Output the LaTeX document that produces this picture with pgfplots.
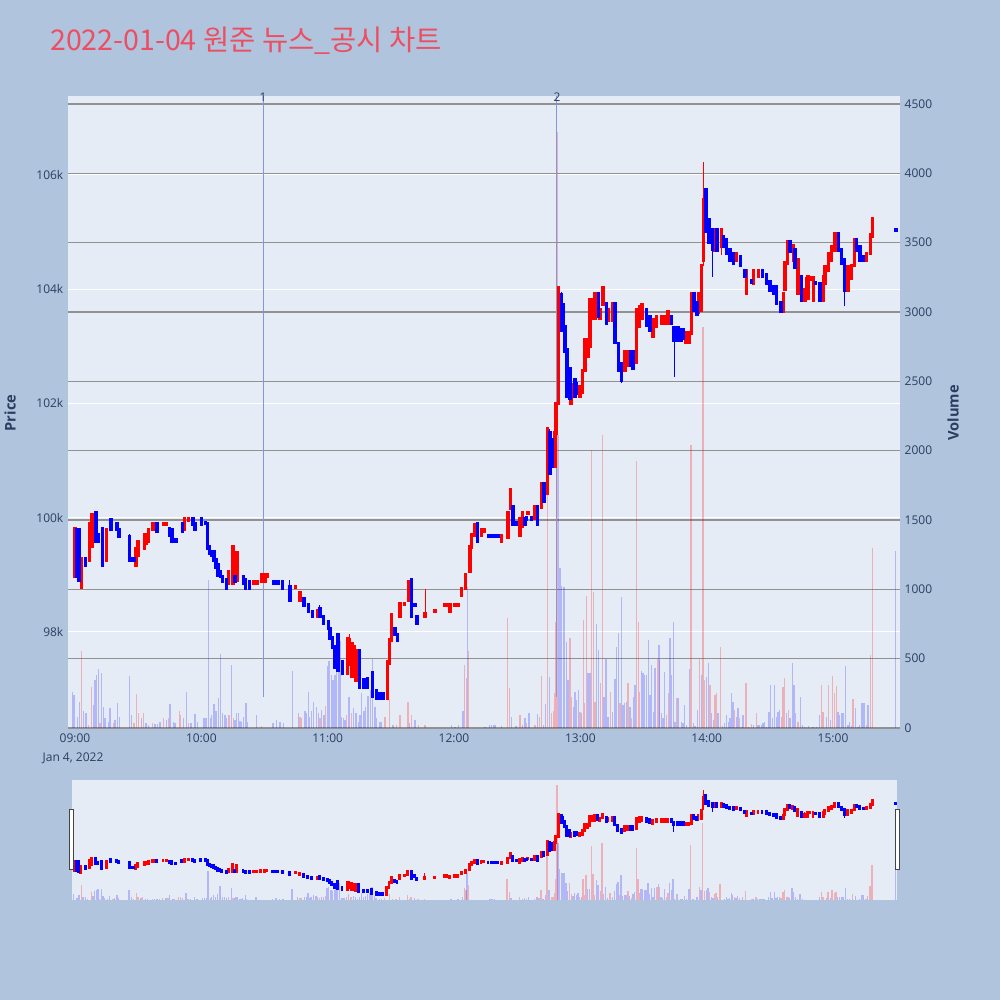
\documentclass[border=0pt]{standalone}
\usepackage{fontspec}
\setmainfont{Open Sans}
\newfontfamily\cjk{Noto Sans CJK KR}
\usepackage{pgfplots}
\usepackage{pgfplotstable}
\pgfplotsset{compat=1.18}

\definecolor{paperbg}{RGB}{176,196,222}
\definecolor{plotbg}{RGB}{229,236,246}
\definecolor{tickcol}{RGB}{42,63,95}
\definecolor{gridgray}{RGB}{145,145,145}
\definecolor{titlecol}{RGB}{236,78,98}
\definecolor{upcol}{RGB}{255,0,0}
\definecolor{dncol}{RGB}{0,0,255}
\definecolor{newscol}{RGB}{130,150,225}

% rising candles: minute after 09:00, open high low close (thousand won)
\pgfplotstableread{
t o h l c
0 98.97 99.80 98.97 99.80
3 98.78 99.29 98.78 99.29
7 99.26 99.90 99.26 99.90
8 99.50 100.09 99.50 100.05
15 99.26 99.79 99.26 99.79
29 99.17 99.46 99.17 99.46
30 99.35 99.58 99.35 99.58
33 99.46 99.70 99.46 99.70
34 99.55 99.70 99.55 99.70
35 99.58 99.79 99.58 99.79
37 99.79 99.90 99.79 99.90
38 99.82 99.90 99.82 99.90
42 99.88 99.90 99.88 99.90
43.5 99.88 99.90 99.88 99.90
52 99.79 99.99 99.79 99.99
54 99.95 99.99 99.95 99.99
73 98.86 99.06 98.86 99.06
75 98.86 99.49 98.86 99.49
77 98.91 99.39 98.91 99.39
85 98.86 98.88 98.86 98.88
86.5 98.86 98.88 98.86 98.88
88.5 98.88 99.00 98.88 99.00
90.2 98.88 99.00 98.88 99.00
91.3 98.98 99.00 98.98 99.00
104.8 98.78 98.80 98.78 98.80
106.8 98.56 98.68 98.56 98.68
115.5 98.27 98.37 98.27 98.37
129.5 97.28 97.89 97.28 97.89
130.3 97.43 97.96 97.43 97.86
131.5 97.22 97.80 97.22 97.80
132.6 97.28 97.74 97.28 97.74
133.4 97.16 97.68 97.16 97.68
148.3 96.84 97.48 96.84 97.48
149.3 97.45 97.86 97.45 97.86
150.4 97.86 98.30 97.86 98.30
154.3 98.27 98.50 98.27 98.50
156.5 98.48 98.50 98.48 98.50
158.3 98.56 98.88 98.56 98.88
166.3 98.27 98.76 98.27 98.32
171 98.36 98.38 98.36 98.38
175.5 98.46 98.48 98.46 98.48
176.8 98.46 98.48 98.46 98.48
178 98.36 98.48 98.36 98.47
180.4 98.46 98.48 98.46 98.48
182 98.46 98.48 98.46 98.48
183.6 98.65 98.76 98.65 98.76
185.5 98.76 99.00 98.76 99.00
187.5 99.06 99.49 99.06 99.49
188.3 99.49 99.70 99.49 99.70
190 99.70 99.87 99.70 99.87
193 99.70 99.79 99.70 99.79
194.2 99.77 99.79 99.77 99.79
202.6 99.58 99.68 99.58 99.68
205.7 99.66 100.08 99.66 100.08
206.8 100.17 100.49 100.17 100.49
211.3 99.70 99.99 99.70 99.99
212.5 99.85 100.08 99.85 100.08
215.2 100.07 100.09 100.07 100.09
218.2 99.99 100.19 99.99 100.19
221.6 100.19 100.60 100.19 100.60
224.4 100.43 101.59 100.43 101.55
227.9 100.90 101.48 100.90 101.48
228.5 101.48 102.00 101.48 102.00
229.6 102.00 104.02 102.00 104.02
235.6 102.00 102.33 102.00 102.33
239.8 102.12 102.29 102.12 102.29
241 102.20 102.58 102.20 102.58
242.1 102.58 103.11 102.58 103.11
243.6 102.82 103.11 102.82 103.11
244.5 103.00 103.81 103.00 103.81
246.1 103.49 103.81 103.49 103.81
247 103.49 103.93 103.49 103.93
249.3 103.49 103.64 103.49 103.64
250.8 103.73 104.02 103.73 104.02
253.2 103.46 103.64 103.46 103.64
255.6 103.46 103.75 103.46 103.75
261.1 102.58 102.91 102.58 102.91
262.7 102.67 102.91 102.67 102.91
266.7 102.73 103.64 102.73 103.64
268.2 103.35 103.70 103.35 103.70
269.3 103.49 103.73 103.49 103.73
274.6 103.17 103.46 103.17 103.46
276.2 103.35 103.52 103.35 103.52
278.5 103.40 103.52 103.40 103.52
280.1 103.40 103.52 103.40 103.52
281.7 103.40 103.60 103.40 103.60
290.2 103.08 103.23 103.08 103.23
291.5 103.08 103.23 103.08 103.23
292.9 103.23 103.93 103.23 103.93
296 103.60 103.93 103.60 103.93
297.5 103.64 104.42 103.60 104.42
298.4 104.51 106.23 104.40 105.56
304 104.69 105.04 104.69 105.04
307 104.75 105.04 104.60 105.04
314.2 104.51 104.63 104.51 104.63
319 103.93 104.33 103.93 104.33
322.2 104.10 104.33 104.10 104.33
324.5 104.22 104.33 104.22 104.33
336.4 103.61 103.93 103.61 103.93
337.2 104.00 104.47 104.00 104.47
338.3 104.45 104.83 104.45 104.83
341.1 104.51 104.77 104.51 104.77
343.4 103.93 104.51 103.93 104.51
346.7 103.81 104.22 103.81 104.00
348 103.84 104.22 103.84 104.22
349 104.18 104.20 104.18 104.20
350.6 103.81 104.20 103.81 104.20
355.4 103.81 104.22 103.81 104.22
356.2 104.10 104.39 104.10 104.39
357.8 104.33 104.63 104.33 104.63
359.3 104.51 104.74 104.51 104.74
360.9 104.69 104.97 104.69 104.97
367.1 103.99 104.39 103.99 104.39
368.8 104.20 104.42 104.20 104.42
370.1 104.42 104.86 104.42 104.86
376 104.51 104.63 104.51 104.63
377.7 104.63 104.95 104.63 104.95
378.8 104.92 105.24 104.92 105.24
}\upc

% falling candles
\pgfplotstableread{
t o h l c
1 99.79 99.79 98.97 98.97
2 99.79 99.79 98.90 98.91
5 99.29 99.29 99.17 99.17
10 100.09 100.09 99.59 99.59
11 99.70 99.70 99.59 99.59
13 99.80 99.80 99.16 99.16
17 99.97 100.00 99.79 99.79
20 99.90 99.90 99.79 99.79
21 99.79 99.79 99.67 99.67
26 99.67 99.72 99.26 99.26
27 99.28 99.28 99.26 99.26
28 99.28 99.28 99.26 99.26
39 99.90 99.90 99.77 99.77
45 99.80 99.80 99.70 99.70
46 99.79 99.79 99.59 99.59
48 99.61 99.61 99.59 99.59
51 99.90 99.90 99.77 99.77
56 99.99 99.99 99.88 99.88
57 99.90 99.90 99.79 99.79
60 99.99 99.99 99.88 99.88
62 99.92 99.92 99.90 99.90
63 99.90 99.90 99.46 99.46
64 99.49 99.49 99.37 99.37
65 99.40 99.40 99.34 99.34
66 99.40 99.40 99.26 99.26
67 99.26 99.26 99.14 99.14
68 99.17 99.17 99.00 99.00
69 99.06 99.06 98.97 98.97
70 98.97 98.97 98.88 98.88
72 98.91 98.91 98.76 98.76
76 98.97 98.97 98.88 98.88
80 98.97 98.97 98.86 98.86
81 98.91 98.91 98.76 98.76
83 98.88 98.88 98.76 98.76
94.2 98.88 98.88 98.86 98.86
95.5 98.88 98.88 98.86 98.86
96.6 98.88 98.88 98.86 98.86
98.6 98.88 98.88 98.76 98.76
102 98.79 98.91 98.56 98.56
108.8 98.58 98.58 98.46 98.46
110.8 98.47 98.47 98.36 98.36
112.7 98.36 98.36 98.27 98.27
116.3 98.40 98.47 98.27 98.27
118 98.27 98.27 98.15 98.15
120.3 98.18 98.18 98.06 98.06
121 98.06 98.06 97.89 97.89
122.2 97.90 97.90 97.74 97.74
123.5 97.74 97.74 97.39 97.39
125 97.96 97.96 97.33 97.33
127 97.48 97.48 97.28 97.28
135 97.68 97.68 97.04 97.04
137.2 97.16 97.16 97.04 97.04
139 97.19 97.19 97.04 97.04
141.2 97.28 97.28 96.87 96.87
143.2 96.98 96.98 96.84 96.84
144.8 96.92 96.92 96.84 96.84
146.4 96.92 96.92 96.84 96.84
152 98.06 98.06 97.96 97.96
153.1 97.96 97.96 97.86 97.86
159.9 98.91 98.91 98.27 98.27
161.4 98.48 98.48 98.46 98.46
162.5 98.27 98.27 98.15 98.15
191.2 99.90 99.90 99.58 99.58
196.3 99.69 99.69 99.67 99.67
197.8 99.69 99.69 99.67 99.67
199.4 99.69 99.69 99.67 99.67
201 99.69 99.69 99.67 99.67
208.1 100.20 100.20 99.88 99.88
209.7 99.91 99.91 99.89 99.89
213.7 99.99 99.99 99.88 99.88
214.5 100.00 100.00 99.98 99.98
216.8 100.00 100.00 99.98 99.98
219.7 100.19 100.19 99.88 99.88
222.7 100.60 100.60 100.28 100.28
225.5 101.48 101.55 100.78 100.78
226.6 101.36 101.36 100.90 100.90
231 103.90 103.95 103.29 103.29
231.9 103.73 103.73 103.34 103.34
232.6 103.34 103.34 102.91 102.91
233.7 102.94 102.94 102.12 102.12
235 102.61 102.61 102.09 102.09
237.4 102.41 102.41 102.12 102.12
238.2 102.35 102.35 102.18 102.18
248.5 103.93 103.93 103.52 103.52
252.4 103.75 103.75 103.40 103.40
256.4 103.75 103.75 103.08 103.08
258 103.05 103.05 102.58 102.58
259.5 102.70 102.70 102.35 102.41
263.8 102.91 102.91 102.67 102.67
265.1 102.91 102.91 102.62 102.62
271.4 103.64 103.64 103.37 103.37
273 103.52 103.52 103.29 103.29
283.3 103.52 103.52 103.40 103.40
284.5 103.32 103.32 102.47 103.11
286.3 103.32 103.32 103.11 103.11
287.7 103.29 103.29 103.11 103.11
289 103.29 103.29 103.14 103.14
294 103.93 103.93 103.64 103.64
295.3 103.76 103.76 103.56 103.56
299.7 105.74 105.74 105.01 105.01
301.1 105.21 105.21 104.83 104.83
302.7 105.04 105.04 104.22 104.70
304.8 105.04 105.04 104.69 104.69
308 104.92 104.92 104.75 104.75
309.5 104.86 104.86 104.63 104.63
311.1 104.69 104.69 104.51 104.51
312.7 104.63 104.63 104.45 104.45
316.1 104.57 104.57 104.42 104.42
318.2 104.33 104.33 104.22 104.22
321.2 104.15 104.15 104.13 104.13
326.4 104.33 104.33 104.22 104.22
328.5 104.25 104.25 104.10 104.10
330.1 104.13 104.13 103.99 103.99
331.7 104.05 104.05 103.93 103.93
333.2 104.05 104.05 103.76 103.76
335.3 103.76 103.76 103.61 103.61
339.6 104.83 104.83 104.66 104.66
341.9 104.69 104.69 104.39 104.39
345.1 104.22 104.22 103.81 103.81
351.7 104.12 104.12 104.10 104.10
353.8 104.10 104.10 103.81 103.81
362.5 104.97 104.97 104.69 104.69
364.1 104.69 104.69 104.45 104.45
365.4 104.51 104.51 103.70 103.99
371.2 104.86 104.86 104.69 104.69
372.8 104.74 104.74 104.51 104.51
374.4 104.57 104.57 104.51 104.51
389.9 105.05 105.05 105.03 105.03
}\dnc

% volume on rising ticks
\pgfplotstableread{
t v
3.2 558
6.3 20
7.9 298
11.9 34
18.2 34
28.0 34
29.3 246
30.1 108
32.4 108
36.9 34
41.9 70
44.3 70
49.5 120
50.2 94
53.8 34
73.1 94
75.2 70
88.6 14
106.8 82
107.6 70
116.3 70
119.1 159
129.0 94
131.3 108
147.2 82
149.5 207
152.7 22
154.3 96
158.2 190
159.8 96
163.0 22
166.2 22
185.1 452
185.9 361
187.0 553
205.3 792
206.5 286
211.3 94
214.5 34
218.4 22
220.5 82
221.4 375
224.4 2160
226.3 106
227.1 125
227.9 255
228.4 768
229.0 4300
235.0 647
235.8 226
239.8 118
241.4 780
242.1 178
242.9 953
245.3 2006
246.1 984
246.9 190
249.6 322
250.4 2115
254.3 262
258.8 178
262.7 322
264.3 70
266.7 1929
267.5 768
268.2 262
276.5 496
277.7 490
280.9 94
281.7 250
285.7 214
292.5 2040
296.7 496
298.3 2890
299.1 346
301.5 310
303.9 238
304.6 250
306.5 585
313.3 130
315.7 70
318.6 322
321.3 28
323.6 106
335.5 82
336.3 298
337.1 358
338.7 130
343.4 46
354.5 310
355.3 118
357.7 310
359.7 375
360.8 250
361.6 303
369.5 207
375.8 22
377.7 527
378.7 1297
}\volup

% volume on falling ticks
\pgfplotstableread{
t v
-1.3 262
-0.5 240
1.1 82
2.1 190
4.0 120
5.2 108
8.7 165
9.5 349
10.3 385
11.1 428
12.7 397
13.5 154
14.2 70
15.8 46
16.6 142
19.0 58
20.1 183
21.0 82
25.8 375
26.9 96
31.6 70
33.7 34
34.8 22
38.0 29
39.1 29
40.3 46
43.5 58
45.1 173
46.7 46
47.5 34
51.4 70
53.0 257
55.1 34
57.0 101
58.1 46
60.9 70
61.7 70
62.5 70
63.3 1070
64.4 70
64.9 94
66.0 173
66.9 120
68.0 214
69.1 534
70.1 108
71.2 94
72.0 70
74.4 452
76.0 58
76.7 108
77.5 108
78.3 53
79.1 46
79.9 82
81.2 178
81.8 46
86.2 94
94.1 34
95.7 58
97.3 46
98.9 34
103.3 414
106.0 108
109.2 120
110.0 108
110.8 262
111.5 82
112.3 120
113.4 190
114.7 154
115.5 108
117.1 130
118.2 94
119.9 445
120.7 481
121.8 385
122.6 349
123.4 385
124.2 445
125.0 649
125.8 625
126.6 82
127.4 70
128.2 58
130.2 226
132.4 142
133.4 108
134.5 46
135.3 94
136.1 250
137.2 120
138.1 154
139.2 231
140.3 274
141.3 500
142.4 154
143.2 70
144.8 46
145.6 46
151.1 22
159.0 34
161.4 58
178.8 20
180.4 10
182.0 20
184.3 120
186.3 1018
194.7 10
197.0 22
197.8 22
198.6 22
199.4 22
202.6 14
207.3 82
209.4 14
212.6 22
213.7 70
215.6 106
219.5 101
222.4 22
223.6 173
225.2 370
229.6 2115
230.4 1152
231.1 1025
231.9 1020
232.6 1020
233.4 623
234.2 346
236.6 154
237.4 262
238.2 202
239.0 274
240.6 106
243.7 395
244.5 400
247.7 750
248.5 563
251.2 226
252.1 496
253.2 82
255.3 118
256.4 351
257.2 587
258.0 683
259.5 947
260.3 166
261.1 178
261.9 190
263.5 154
265.1 226
265.9 310
269.0 414
269.8 395
270.6 380
271.4 385
272.2 635
273.0 238
273.8 457
274.6 118
275.4 433
277.3 600
278.5 106
279.3 70
280.1 406
282.5 647
283.3 380
284.1 768
284.9 46
286.4 214
288.0 46
288.8 34
289.6 166
290.4 22
291.7 423
293.6 34
294.4 14
295.5 130
297.5 380
299.9 370
300.7 466
302.3 106
303.1 58
305.4 106
307.5 14
308.6 34
309.4 94
310.2 46
311.0 70
311.8 250
312.5 190
314.1 82
314.9 142
316.5 10
317.3 94
319.7 10
322.1 22
324.4 22
325.2 22
326.0 22
326.8 38
327.6 46
328.4 10
329.6 118
330.4 310
331.2 70
332.3 310
333.1 82
333.9 118
334.7 130
337.9 106
339.5 70
340.7 466
341.5 310
342.3 106
344.5 221
345.5 22
346.6 10
348.2 14
350.5 10
352.1 10
353.7 94
356.9 82
358.8 58
362.4 118
363.2 94
364.0 106
364.8 106
365.9 447
367.1 22
367.9 46
368.7 14
370.8 142
371.9 10
372.7 22
373.8 178
374.7 178
376.6 166
389.8 1273
}\voldn

\pgfplotsset{
  bare/.style={scale only axis, anchor=south west,
    axis line style={draw=none}, tick style={draw=none},
    xtick=\empty, ytick=\empty},
  wick/.style 2 args={draw=none, mark=none,
    error bars/.cd, y dir=plus, y explicit, error mark=none,
    error bar style={draw=#1, line width=#2}},
  body/.style 2 args={draw=none, mark=none,
    error bars/.cd, y dir=plus, y explicit, error mark=none,
    error bar style={draw=#1, line width=#2, line cap=rect}},
}

\newcommand\candles[2]{% body width, wick width
  \addplot[wick={upcol}{#2}] table[x=t, y=l, y error plus expr={\thisrow{h}-\thisrow{l}}] {\upc};
  \addplot[body={upcol}{#1}] table[x=t, y=o, y error plus expr={max(\thisrow{c}-\thisrow{o},0.005)}] {\upc};
  \addplot[wick={dncol}{#2}] table[x=t, y=l, y error plus expr={\thisrow{h}-\thisrow{l}}] {\dnc};
  \addplot[body={dncol}{#1}] table[x=t, y=c, y error plus expr={max(\thisrow{o}-\thisrow{c},0.005)}] {\dnc};
}
\newcommand\volbars[1]{% bar width
  \addplot[ycomb, mark=none, draw=upcol, opacity=0.25, line width=#1] table[x=t, y=v] {\volup};
  \addplot[ycomb, mark=none, draw=dncol, opacity=0.22, line width=#1] table[x=t, y=v] {\voldn};
}

\begin{document}
\begin{tikzpicture}
\fill[paperbg] (0,0) rectangle (750pt,750pt);

% main panel: price grid and labels
\begin{axis}[
  at={(51pt,204pt)}, anchor=south west, scale only axis,
  width=624pt, height=474pt,
  xmin=-3.32, xmax=391.8, ymin=96.319, ymax=107.383,
  axis background/.style={fill=plotbg},
  axis line style={draw=none}, tick style={draw=none},
  xtick={0,60,...,360},
  xticklabels={09:00,10:00,11:00,12:00,13:00,14:00,15:00},
  ytick={98,100,...,106},
  yticklabels={98k,100k,102k,104k,106k},
  ymajorgrids, grid style={white, line width=0.75pt},
  ticklabel style={font=\fontsize{9}{11}\selectfont, text=tickcol},
  xticklabel style={yshift=-1pt},
]
\end{axis}

% main panel: volume on the right axis
\begin{axis}[
  at={(51pt,204pt)}, anchor=south west, scale only axis,
  width=624pt, height=474pt,
  xmin=-3.32, xmax=391.8, ymin=0, ymax=4557.7,
  axis line style={draw=none}, tick style={draw=none},
  xtick=\empty,
  ytick={0,500,...,4500}, yticklabel pos=right,
  scaled y ticks=false,
  yticklabel style={/pgf/number format/.cd, fixed, 1000 sep={}, assume math mode=true},
  ymajorgrids, grid style={gridgray, line width=0.8pt},
  ticklabel style={font=\fontsize{9}{11}\selectfont, text=tickcol},
]
\volbars{1.0pt}
\end{axis}

% main panel: candles and news markers
\begin{axis}[
  at={(51pt,204pt)}, bare, clip=false,
  width=624pt, height=474pt,
  xmin=-3.32, xmax=391.8, ymin=96.319, ymax=107.383,
]
\addplot[newscol, line width=0.75pt] coordinates {(89.3,96.87) (89.3,107.383)};
\addplot[newscol, line width=0.75pt] coordinates {(228.9,96.87) (228.9,107.383)};
\candles{2.6pt}{0.75pt}
\node[font=\fontsize{9}{11}\selectfont, text=tickcol, yshift=-1pt] at (axis cs:89.3,107.383) {1};
\node[font=\fontsize{9}{11}\selectfont, text=tickcol, yshift=-1pt] at (axis cs:228.9,107.383) {2};
\end{axis}

% range slider
\begin{axis}[
  at={(54pt,75pt)}, bare,
  width=618.75pt, height=90pt,
  xmin=-1.2, xmax=390.5, ymin=0, ymax=4487,
  axis background/.style={fill=plotbg},
]
\volbars{1.0pt}
\end{axis}
\begin{axis}[
  at={(54pt,75pt)}, bare,
  width=618.75pt, height=90pt,
  xmin=-1.2, xmax=390.5, ymin=96.31, ymax=107.12,
]
\candles{2.2pt}{0.6pt}
\end{axis}
\draw[fill=white, draw={rgb,255:red,68;green,68;blue,68}, line width=0.75pt]
  (51.9pt,97.5pt) rectangle (54.9pt,142.5pt);
\draw[fill=white, draw={rgb,255:red,68;green,68;blue,68}, line width=0.75pt]
  (671.4pt,97.5pt) rectangle (674.4pt,142.5pt);

% texts
\node[anchor=base west, inner sep=0pt, text=titlecol,
  font=\cjk\fontsize{21.4}{25}\selectfont] at (37.5pt,712pt) {2022-01-04 원준 뉴스\_공시 차트};
\node[rotate=90, text=tickcol, font=\bfseries\fontsize{11}{13}\selectfont] at (7.5pt,440.25pt) {Price};
\node[rotate=90, text=tickcol, font=\bfseries\fontsize{11}{13}\selectfont] at (714.75pt,440.25pt) {Volume};
\node[text=tickcol, font=\fontsize{9}{11}\selectfont] at (54.75pt,181.5pt) {Jan 4, 2022};

\pgfresetboundingbox
\useasboundingbox (0,0) rectangle (750pt,750pt);
\end{tikzpicture}
\end{document}
